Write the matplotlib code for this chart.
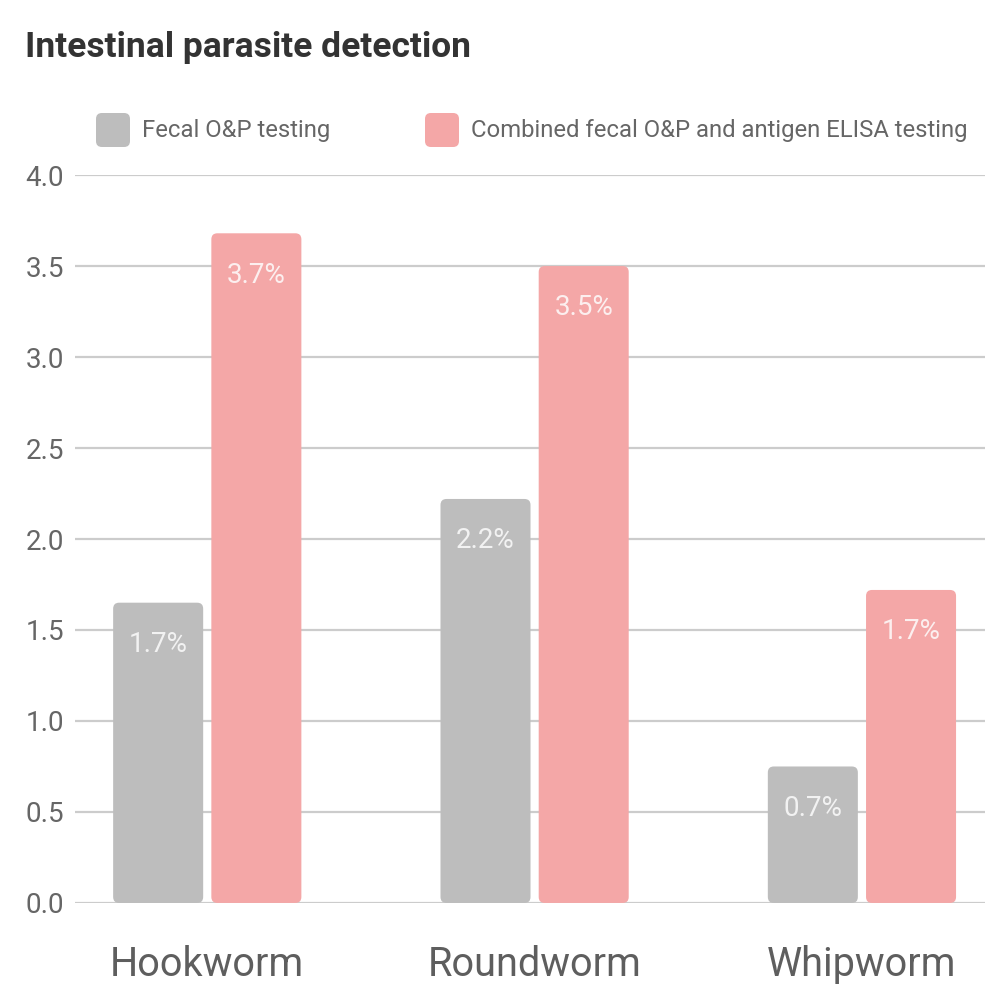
import matplotlib
matplotlib.use("Agg")
import matplotlib.pyplot as plt
from matplotlib.patches import FancyBboxPatch
import numpy as np

categories = ["Hookworm", "Roundworm", "Whipworm"]
series_names = ["Fecal O&P testing", "Combined fecal O&P and antigen ELISA testing"]
fecal = [1.65, 2.22, 0.75]
combined = [3.68, 3.50, 1.72]
fecal_labels = ["1.7%", "2.2%", "0.7%"]
combined_labels = ["3.7%", "3.5%", "1.7%"]
yticks = [0.0, 0.5, 1.0, 1.5, 2.0, 2.5, 3.0, 3.5, 4.0]

gray = "#bdbdbd"
pink = "#f4a7a7"

plt.rcParams['font.family'] = ['Roboto', 'DejaVu Sans']

fig = plt.figure(figsize=(9.87, 9.89), dpi=100)
ax = fig.add_axes([0.076, 0.087, 0.922, 0.736])

x = np.arange(len(categories))
w = 0.275
off = 0.15
bars1 = ax.bar(x - off, fecal, width=w, color=gray, zorder=3)
bars2 = ax.bar(x + off, combined, width=w, color=pink, zorder=3)

# round the bar corners slightly
ax.set_ylim(0, 4.0)
ax.set_xlim(-0.404, 2.376)
fig.canvas.draw()
bbox = ax.get_window_extent()
xpp = (2.376 + 0.404) / bbox.width
ypp = 4.0 / bbox.height
r = 6 * xpp
for b in list(bars1) + list(bars2):
    bx, by = b.get_x(), b.get_y()
    bw, bh = b.get_width(), b.get_height()
    fc = b.get_facecolor()
    b.set_visible(False)
    p = FancyBboxPatch((bx, by), bw, bh, boxstyle=f"round,pad=0,rounding_size={r}",
                       mutation_aspect=ypp / xpp, facecolor=fc, edgecolor='none', zorder=3)
    ax.add_patch(p)

for xi, v, t in zip(x - off, fecal, fecal_labels):
    ax.text(xi, v - 0.23, t, ha='center', va='center', color='#f2f2f2', fontsize=20, zorder=4)
for xi, v, t in zip(x + off, combined, combined_labels):
    ax.text(xi, v - 0.23, t, ha='center', va='center', color='#fcefef', fontsize=20, zorder=4)

ax.set_yticks(yticks)
ax.set_yticklabels([f"{t:.1f}" for t in yticks])
ax.set_xticks(x)
ax.set_xticklabels(categories)
ax.grid(axis='y', color='#cccccc', linewidth=1.6, zorder=0)
ax.set_axisbelow(True)
for s in ax.spines.values():
    s.set_visible(False)
ax.tick_params(axis='y', length=0, pad=8, labelsize=20, labelcolor='#666666')
ax.tick_params(axis='x', length=0, pad=30, labelsize=28.5, labelcolor='#5e5e5e')

fig.text(25/987, 1 - 47/989, "Intestinal parasite detection", fontsize=25.5, fontweight='bold',
         color='#333333', ha='left', va='center')

# legend
W, H = 987, 989
def legend_item(x0, color, label):
    sq = 34
    yc = 130
    p = FancyBboxPatch((x0 / W, (H - yc - sq / 2) / H), sq / W, sq / H,
                       boxstyle="round,pad=0,rounding_size=0.006",
                       transform=fig.transFigure, facecolor=color, edgecolor='none')
    fig.patches.append(p)
    fig.text((x0 + sq + 12) / W, 1 - yc / H, label, fontsize=17.2, color='#666666',
             ha='left', va='center')

legend_item(96, gray, series_names[0])
legend_item(425, pink, series_names[1])

fig.savefig("out.png", dpi=100, facecolor='white')
